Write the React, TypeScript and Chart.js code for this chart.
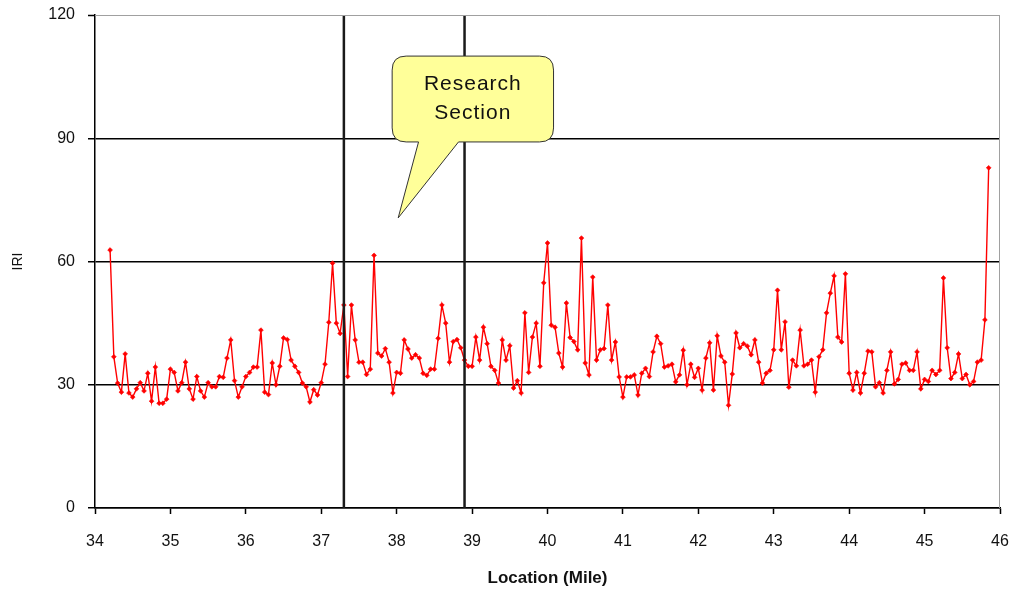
import React, { useEffect, useRef } from "react";
import { Chart, registerables } from "chart.js";

Chart.register(...registerables);

// Survey sampling: first location (mile) and spacing between readings (mile)
const locationStart = 34.2;
const locationStep = 0.05;

// IRI readings, one per sample location (34.20 ... 45.85)
const iri3420 = [62.8, 36.8, 30.4, 28.2, 37.5, 28, 27, 29, 30.5, 28.5, 32.8, 26, 34.3, 25.5, 25.5, 26.5];
const iri3500 = [33.8, 33, 28.5, 30.5, 35.5, 29, 26.5, 32, 28.5, 27, 30.5, 29.5, 29.5, 32, 31.8, 36.5, 40.9, 31, 27, 29.5];
const iri3600 = [32, 33, 34.3, 34.3, 43.3, 28.2, 27.6, 35.3, 30, 34.5, 41.4, 41, 36, 34.5, 33, 30.4, 29.5, 25.8, 28.8, 27.5];
const iri3700 = [30.5, 35, 45.2, 59.6, 45, 42.5, 49.4, 32, 49.4, 40.9, 35.5, 35.5, 32.5, 33.8, 61.5, 37.7, 37, 38.8, 35.5, 28];
const iri3800 = [33, 32.8, 40.9, 38.7, 36.5, 37.3, 36.5, 32.8, 32.3, 33.8, 33.8, 41.3, 49.4, 45, 35.5, 40.5, 41, 39, 36, 34.5];
const iri3900 = [34.5, 41.6, 36, 44, 40, 34.5, 33.5, 30.4, 40.9, 36, 39.5, 29.2, 31, 28, 47.5, 33, 41.6, 45, 34.5, 54.8];
const iri4000 = [64.5, 44.5, 44, 37.7, 34.3, 49.9, 41.5, 40.5, 38.5, 65.7, 35.3, 32.4, 56.2, 36, 38.5, 38.8, 49.4, 36, 40.4, 31.9];
const iri4100 = [27, 31.9, 31.9, 32.4, 27.5, 32.8, 34, 32, 38, 41.8, 40, 34.3, 34.6, 35, 30.7, 32.4, 38.4, 30, 35, 31.8];
const iri4200 = [34, 28.7, 36.5, 40.2, 28.7, 41.9, 37, 35.5, 25, 32.6, 42.6, 39, 40, 39.4, 37.3, 40.9, 35.5, 30.4, 32.8, 33.5];
const iri4300 = [38.5, 53, 38.5, 45.3, 29.4, 36, 34.6, 43.3, 34.6, 35, 36, 28.2, 36.8, 38.5, 47.5, 52.3, 56.5, 41.6, 40.4, 57];
const iri4400 = [32.8, 28.7, 33, 28, 32.8, 38.2, 38, 29.5, 30.5, 28, 33.5, 38, 30.2, 31.3, 35, 35.3, 33.5, 33.5, 38, 29];
const iri4500 = [31.3, 30.8, 33.5, 32.5, 33.5, 56, 39, 31.5, 33, 37.5, 31.5, 32.5, 30, 30.8, 35.5, 36, 45.8, 82.8];

const iriValues = [
  ...iri3420, ...iri3500, ...iri3600, ...iri3700, ...iri3800, ...iri3900,
  ...iri4000, ...iri4100, ...iri4200, ...iri4300, ...iri4400, ...iri4500,
];

// Axis ranges / ticks
const xMin = 34;
const xMax = 46;
const xStep = 1;
const yMin = 0;
const yMax = 120;
const yStep = 30;

// Research section boundaries (mile)
const researchStart = 37.3;
const researchEnd = 38.9;

// Callout annotation (data coordinates)
const calloutText = ["Research", "Section"];
const calloutBox = { x1: 37.94, x2: 40.08, yTop: 110, yBottom: 89.1 };
const calloutTail = { baseLeft: 38.29, baseRight: 38.82, tipX: 38.02, tipY: 70.6 };

const FONT = "'Liberation Sans', Arial, sans-serif";

const calloutPlugin = {
  id: "callout",
  afterDraw(chart: any) {
    const { ctx, chartArea: a, scales } = chart;
    const xs = scales.x;
    const ys = scales.y;
    ctx.save();
    // top/right frame
    ctx.strokeStyle = "#a0a0a0";
    ctx.lineWidth = 1;
    ctx.beginPath();
    ctx.moveTo(a.left, a.top + 0.5);
    ctx.lineTo(a.right - 0.5, a.top + 0.5);
    ctx.lineTo(a.right - 0.5, a.bottom);
    ctx.stroke();

    const L = xs.getPixelForValue(calloutBox.x1);
    const R = xs.getPixelForValue(calloutBox.x2);
    const T = ys.getPixelForValue(calloutBox.yTop);
    const B = ys.getPixelForValue(calloutBox.yBottom);
    const tl = xs.getPixelForValue(calloutTail.baseLeft);
    const tr = xs.getPixelForValue(calloutTail.baseRight);
    const tx = xs.getPixelForValue(calloutTail.tipX);
    const ty = ys.getPixelForValue(calloutTail.tipY);
    const r = 14;
    ctx.beginPath();
    ctx.moveTo(L + r, T);
    ctx.lineTo(R - r, T);
    ctx.quadraticCurveTo(R, T, R, T + r);
    ctx.lineTo(R, B - r);
    ctx.quadraticCurveTo(R, B, R - r, B);
    ctx.lineTo(tr, B);
    ctx.lineTo(tx, ty);
    ctx.lineTo(tl, B);
    ctx.lineTo(L + r, B);
    ctx.quadraticCurveTo(L, B, L, B - r);
    ctx.lineTo(L, T + r);
    ctx.quadraticCurveTo(L, T, L + r, T);
    ctx.closePath();
    ctx.fillStyle = "#FFFF99";
    ctx.fill();
    ctx.strokeStyle = "#333";
    ctx.lineWidth = 1;
    ctx.stroke();

    ctx.fillStyle = "#111";
    ctx.font = `21px ${FONT}`;
    ctx.textAlign = "center";
    ctx.textBaseline = "middle";
    try { (ctx as any).letterSpacing = "1px"; } catch (e) {}
    const cx = (L + R) / 2;
    const cy = (T + B) / 2;
    ctx.fillText(calloutText[0], cx, cy - 14.5);
    ctx.fillText(calloutText[1], cx, cy + 14.5);
    ctx.restore();
  },
};

const zeroPad = (s: any) => {
  s.paddingTop = 0;
  s.paddingBottom = 0;
  s.paddingLeft = 0;
  s.paddingRight = 0;
};

export default function App() {
  const ref = useRef<HTMLCanvasElement | null>(null);

  useEffect(() => {
    if (!ref.current) return;
    const points = iriValues.map((v, i) => ({
      x: +(locationStart + i * locationStep).toFixed(2),
      y: v,
    }));
    const chart = new Chart(ref.current, {
      type: "line",
      data: {
        datasets: [
          {
            label: "start",
            data: [{ x: researchStart, y: yMin }, { x: researchStart, y: yMax }],
            borderColor: "#1a1a1a",
            borderWidth: 2.5,
            pointRadius: 0,
          },
          {
            label: "end",
            data: [{ x: researchEnd, y: yMin }, { x: researchEnd, y: yMax }],
            borderColor: "#1a1a1a",
            borderWidth: 2.5,
            pointRadius: 0,
          },
          {
            label: "IRI",
            data: points,
            borderColor: "#FF0000",
            backgroundColor: "#FF0000",
            borderWidth: 1.4,
            pointStyle: "rectRot",
            pointRadius: 2.4,
            pointBorderWidth: 0.6,
            tension: 0,
          },
        ],
      },
      options: {
        animation: false,
        responsive: false,
        layout: { padding: { top: 15, right: 12, left: 0, bottom: 0 } },
        plugins: { legend: { display: false }, tooltip: { enabled: false } },
        scales: {
          x: {
            type: "linear",
            min: xMin,
            max: xMax,
            ticks: { stepSize: xStep, color: "#111", font: { family: FONT, size: 16 }, padding: 18 },
            grid: { drawOnChartArea: false, tickLength: 6, tickColor: "#000", tickWidth: 1.5 },
            border: { color: "#000", width: 1.5 },
            title: {
              display: true,
              text: "Location (Mile)",
              color: "#111",
              font: { family: FONT, size: 17, weight: "bold" },
              padding: { top: 0, bottom: 3 },
            },
            afterFit: (s: any) => { s.height = 84; zeroPad(s); },
          },
          y: {
            min: yMin,
            max: yMax,
            ticks: { stepSize: yStep, color: "#111", font: { family: FONT, size: 16 }, padding: 13 },
            grid: {
              color: (c: any) => (c.tick && c.tick.value === yMax ? "#a0a0a0" : "#000"),
              lineWidth: (c: any) => (c.tick && c.tick.value === yMax ? 1 : 1.5),
              tickLength: 7,
              tickColor: "#000",
              tickWidth: 1.5,
            },
            border: { color: "#000", width: 1.5 },
            title: {
              display: true,
              text: "IRI",
              color: "#111",
              font: { family: FONT, size: 14 },
              padding: { top: 10, bottom: 0 },
            },
            afterFit: (s: any) => { s.width = 95; zeroPad(s); },
          },
        },
      },
      plugins: [calloutPlugin],
    } as any);
    return () => chart.destroy();
  }, []);

  return (
    <div style={{ position: "absolute", left: 0, top: 0, width: 1012, height: 592, background: "#fff" }}>
      <canvas ref={ref} width={1012} height={592} style={{ width: 1012, height: 592, display: "block" }} />
    </div>
  );
}
